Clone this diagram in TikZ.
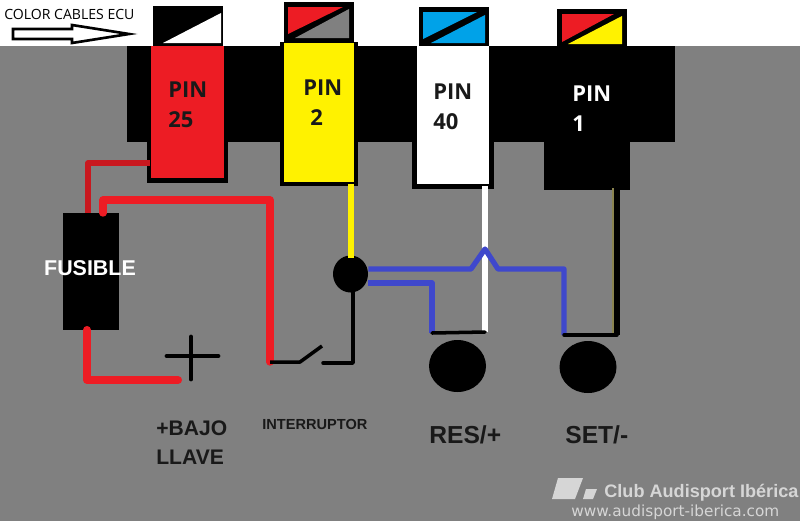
\documentclass[tikz,border=0pt]{standalone}
\usepackage{fontspec}
\setmainfont{Open Sans}
\newfontfamily\capfont{Liberation Sans}
\newfontfamily\webfont{DejaVu Sans}
\usetikzlibrary{shapes.geometric}
\definecolor{bggray}{HTML}{808080}
\definecolor{pinred}{HTML}{ED1C24}
\definecolor{pinyellow}{HTML}{FFF200}
\definecolor{flagblue}{HTML}{00A2E8}
\definecolor{wireblue}{HTML}{3F48CC}
\definecolor{wireolive}{HTML}{8A8450}
\definecolor{logogray}{HTML}{D6D6D6}
\tikzset{
  pinbox/.style={inner sep=0pt, minimum width=1.46cm},
  fusebox/.style={fill=black, inner sep=0pt, minimum width=1.12cm, minimum height=2.34cm},
  blob/.style={ellipse, fill=black, inner sep=0pt},
  pinlabel/.style={font=\fontsize{12.5}{12.5}\selectfont\bfseries, inner sep=0pt, anchor=west, text=black!90},
  caption/.style={font=\capfont\fontsize{12}{12}\selectfont\bfseries, inner sep=0pt, anchor=west, text=black!90},
  redwire/.style={draw=pinred, line width=4.2pt, line cap=round, line join=round},
  bluewire/.style={draw=wireblue, line width=3pt, line join=round},
  blackwire/.style={draw=black, line width=2pt, line cap=round, line join=round},
}
\begin{document}
\begin{tikzpicture}[x=0.02cm, y=-0.02cm]
  \useasboundingbox (0, 0) rectangle (800, 521);
  \fill [white] (0, 0) rectangle (800, 46);
  \fill [bggray] (0, 46) rectangle (800, 521);
  \fill (127, 46) rectangle (675, 142);

  % pins
  \fill (147, 46) rectangle (228, 183);
  \fill (280, 42) rectangle (358, 186);
  \fill (412, 46) rectangle (494, 189);
  \node [pinbox, fill=pinred, minimum height=2.64cm] (pin25) at (187.5, 112) {};
  \node [pinbox, fill=pinyellow, minimum width=1.4cm, minimum height=2.78cm] (pin2) at (319, 112.5) {};
  \node [pinbox, fill=white, minimum width=1.44cm, minimum height=2.76cm] (pin40) at (453, 115) {};
  \node [fill=black, inner sep=0pt, minimum width=1.72cm, minimum height=2.88cm] (pin1) at (587, 118) {};

  % flags
  \fill (153, 6) rectangle (223, 46);
  \fill [white] (163, 43) -- (221, 13) -- (221, 43) -- cycle;
  \fill (284, 2) rectangle (354, 42);
  \fill [pinred] (288, 7) -- (343, 7) -- (288, 34) -- cycle;
  \fill [bggray] (295, 38) -- (349, 9) -- (349, 38) -- cycle;
  \fill (419, 7) rectangle (489, 46);
  \fill [flagblue] (423, 12) -- (477, 12) -- (423, 39) -- cycle;
  \fill [flagblue] (431, 43) -- (485, 15) -- (485, 43) -- cycle;
  \fill (557, 9) rectangle (627, 46);
  \fill [pinred] (562, 14) -- (614, 14) -- (562, 42) -- cycle;
  \fill [pinyellow] (568, 44) -- (622, 16) -- (622, 44) -- cycle;

  \node [font=\fontsize{8}{8}\selectfont, inner sep=0pt, anchor=west] (title) at (4, 14) {COLOR CABLES ECU};
  \draw [fill=white, line width=1.5pt] (13, 29) -- (72, 29) -- (72, 25) -- (129, 34) -- (72, 43) -- (72, 39) -- (13, 39) -- cycle;

  \node [pinlabel] (lab25a) at (168, 90) {PIN};
  \node [pinlabel] (lab25b) at (168, 120) {25};
  \node [pinlabel] (lab2a) at (303, 88) {PIN};
  \node [pinlabel] (lab2b) at (310, 118) {2};
  \node [pinlabel] (lab40a) at (433, 92) {PIN};
  \node [pinlabel] (lab40b) at (433, 122) {40};
  \node [pinlabel, text=white] (lab1a) at (572, 94) {PIN};
  \node [pinlabel, text=white] (lab1b) at (572, 124) {1};

  % fuse, switch, buttons
  \node [fusebox] (fuse) at (91, 271.5) {};
  \node [font=\capfont\fontsize{12.2}{12.2}\selectfont\bfseries, text=white, inner sep=0pt] (fuselabel) at (90, 268) {FUSIBLE};
  \node [blob, minimum width=0.7cm, minimum height=0.74cm] (joint) at (350.5, 274) {};
  \node [blob, minimum width=1.14cm, minimum height=1.04cm] (res) at (457.5, 366) {};
  \node [blob, minimum width=1.14cm, minimum height=1.04cm] (set) at (588, 367) {};

  \coordinate (fusetopa) at (88, 213);
  \coordinate (fusetopb) at (103, 213);
  \coordinate (fusebot) at (87, 330);
  \coordinate (pin25out) at (150, 163);
  \coordinate (plusend) at (178, 380);
  \coordinate (swleft) at (270, 362);
  \coordinate (swarm) at (322, 346);
  \coordinate (swhinge) at (300, 362);
  \coordinate (swright) at (323, 363);
  \coordinate (bump) at (485, 249);
  \coordinate (bumpl) at (471, 269);
  \coordinate (bumpr) at (498, 269);
  \coordinate (resleft) at (432, 333);
  \coordinate (resright) at (485, 332);
  \coordinate (setleft) at (564, 335);
  \coordinate (setright) at (617, 335);
  \coordinate (pin40out) at (485, 186);
  \coordinate (pin1out) at (617, 188);
  \coordinate (pin2out) at (351, 184);
  \coordinate (jointtop) at (351, 258);
  \coordinate (jointbot) at (353, 288);
  \coordinate (redcorner) at (103, 200);

  % wires
  \draw [redwire, draw=pinred!85!black, line width=3pt, line cap=butt] (pin25out) -| (fusetopa);
  \draw [redwire] (fusetopb) -- (redcorner) -| (swleft);
  \draw [redwire, line width=4.6pt] (fusebot) |- (plusend);
  \draw [blackwire, line width=2.8pt] (167, 356) coordinate (plusl) -- (218, 356) coordinate (plusr);
  \draw [blackwire, line width=2.8pt] (191, 337) coordinate (plust) -- (191, 379) coordinate (plusb);
  \draw [blackwire, line cap=butt] (swleft) -- (swhinge) -- (swarm);
  \draw [blackwire] (swright) -| (jointbot);
  \draw [draw=pinyellow, line width=3.4pt] (pin2out) -- (jointtop);
  \draw [draw=white, line width=3.2pt] (pin40out) -- (resright);
  \draw [bluewire] (joint.east |- bumpl) -- (bumpl) -- (bump) -- (bumpr) -| (setleft);
  \draw [bluewire] (joint.east |- 0, 283) -| (resleft);
  \draw [blackwire] (resleft) -- (resright);
  \draw [blackwire] (setleft) -- (setright);
  \draw [draw=wireolive, line width=0.8pt] (613, 188) coordinate (olivea) -- (613, 333) coordinate (oliveb);
  \draw [blackwire, line width=3.2pt, line cap=butt] (pin1out) -- (setright);

  % captions
  \node [caption] (bajo) at (156, 428) {+BAJO};
  \node [caption] (llave) at (156, 457) {LLAVE};
  \node [caption, font=\capfont\fontsize{8.3}{8.3}\selectfont\bfseries] (inter) at (262, 424) {INTERRUPTOR};
  \node [caption, font=\capfont\fontsize{14}{14}\selectfont\bfseries] (reslabel) at (429, 435) {RES/+};
  \node [caption, font=\capfont\fontsize{14}{14}\selectfont\bfseries] (setlabel) at (565, 435) {SET/-};

  % logo
  \fill [logogray] (552, 499) -- (558, 478) -- (583, 478) -- (575, 499) -- cycle;
  \fill [logogray] (583, 499) -- (586, 489) -- (597, 489) -- (593, 499) -- cycle;
  \node [font=\capfont\fontsize{10.3}{10.3}\selectfont\bfseries, text=logogray, inner sep=0pt, anchor=west] (club) at (604, 493) {Club Audisport Ibérica};
  \node [font=\webfont\fontsize{8.7}{8.7}\selectfont, text=logogray, inner sep=0pt, anchor=west] (web) at (571, 512) {www.audisport-iberica.com};
\end{tikzpicture}
\end{document}
